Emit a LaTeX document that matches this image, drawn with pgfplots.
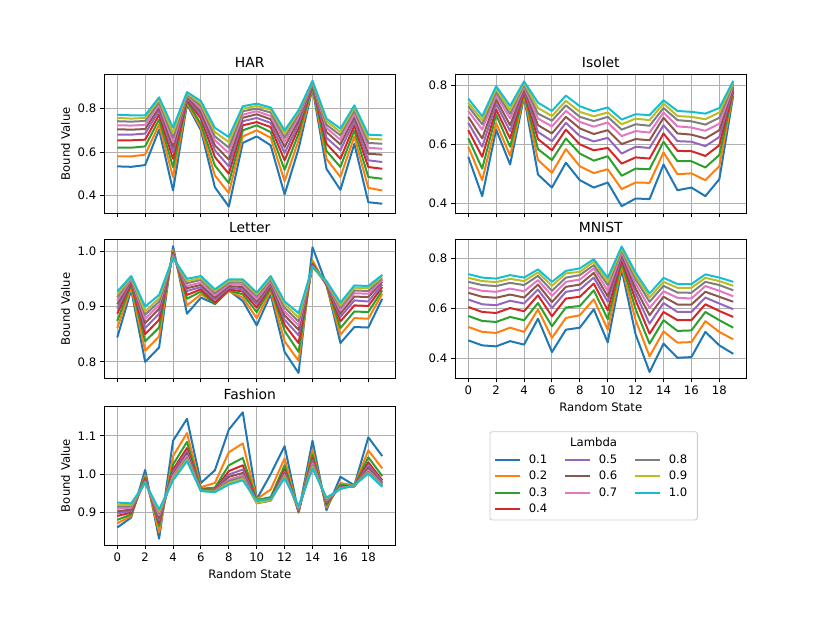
\documentclass[border=0pt]{standalone}
\usepackage{fontspec}
\setmainfont{DejaVu Sans}
\usepackage{pgfplots}
\usepackage{pgfplotstable}
\pgfplotsset{compat=1.18}
\newlength\pu
\setlength\pu{0.9pt}
\definecolor{c0}{HTML}{1F77B4}
\definecolor{c1}{HTML}{FF7F0E}
\definecolor{c2}{HTML}{2CA02C}
\definecolor{c3}{HTML}{D62728}
\definecolor{c4}{HTML}{9467BD}
\definecolor{c5}{HTML}{8C564B}
\definecolor{c6}{HTML}{E377C2}
\definecolor{c7}{HTML}{7F7F7F}
\definecolor{c8}{HTML}{BCBD22}
\definecolor{c9}{HTML}{17BECF}
\definecolor{gridc}{HTML}{B0B0B0}
\definecolor{legc}{HTML}{CCCCCC}

\pgfplotstableread{
x a b c d e f g h i j
0 0.534 0.580 0.620 0.654 0.680 0.705 0.723 0.742 0.757 0.772
1 0.532 0.580 0.620 0.654 0.680 0.703 0.722 0.740 0.754 0.769
2 0.540 0.588 0.626 0.657 0.685 0.706 0.725 0.743 0.757 0.769
3 0.703 0.727 0.750 0.772 0.790 0.805 0.818 0.830 0.842 0.852
4 0.423 0.485 0.531 0.569 0.600 0.623 0.646 0.666 0.688 0.712
5 0.820 0.828 0.835 0.842 0.849 0.855 0.861 0.866 0.871 0.876
6 0.700 0.712 0.728 0.754 0.770 0.785 0.800 0.812 0.823 0.835
7 0.438 0.492 0.538 0.577 0.608 0.631 0.654 0.672 0.692 0.712
8 0.349 0.411 0.457 0.500 0.534 0.565 0.595 0.620 0.646 0.669
9 0.642 0.672 0.700 0.723 0.742 0.758 0.772 0.788 0.800 0.811
10 0.672 0.700 0.723 0.738 0.757 0.774 0.788 0.800 0.812 0.823
11 0.631 0.666 0.692 0.715 0.734 0.751 0.766 0.782 0.795 0.805
12 0.405 0.466 0.518 0.562 0.595 0.623 0.646 0.666 0.685 0.700
13 0.615 0.654 0.685 0.711 0.728 0.746 0.762 0.774 0.785 0.792
14 0.893 0.898 0.903 0.908 0.912 0.916 0.919 0.922 0.925 0.928
15 0.523 0.569 0.605 0.638 0.666 0.692 0.711 0.726 0.742 0.754
16 0.426 0.485 0.531 0.569 0.608 0.635 0.657 0.677 0.692 0.708
17 0.638 0.672 0.700 0.723 0.743 0.762 0.777 0.792 0.805 0.815
18 0.369 0.435 0.485 0.531 0.562 0.592 0.620 0.642 0.662 0.680
19 0.362 0.423 0.477 0.523 0.554 0.588 0.615 0.638 0.658 0.677
}\har

\pgfplotstableread{
x a b c d e f g h i j
0 0.558 0.592 0.621 0.648 0.673 0.693 0.713 0.729 0.741 0.755
1 0.425 0.479 0.518 0.558 0.592 0.620 0.650 0.668 0.682 0.695
2 0.650 0.672 0.700 0.718 0.737 0.752 0.766 0.777 0.788 0.797
3 0.532 0.562 0.592 0.620 0.645 0.665 0.688 0.703 0.716 0.730
4 0.760 0.766 0.772 0.778 0.785 0.790 0.796 0.802 0.808 0.813
5 0.498 0.547 0.584 0.618 0.642 0.665 0.687 0.704 0.723 0.741
6 0.454 0.504 0.547 0.580 0.611 0.637 0.661 0.680 0.696 0.713
7 0.538 0.584 0.620 0.650 0.673 0.693 0.713 0.732 0.747 0.765
8 0.479 0.526 0.569 0.600 0.628 0.654 0.676 0.693 0.710 0.729
9 0.454 0.503 0.545 0.580 0.610 0.635 0.660 0.679 0.695 0.712
10 0.471 0.516 0.560 0.588 0.622 0.648 0.674 0.693 0.708 0.725
11 0.391 0.449 0.494 0.535 0.569 0.601 0.628 0.650 0.668 0.684
12 0.417 0.471 0.518 0.556 0.592 0.618 0.645 0.668 0.687 0.702
13 0.415 0.470 0.516 0.552 0.588 0.614 0.640 0.663 0.682 0.699
14 0.532 0.573 0.609 0.637 0.665 0.690 0.708 0.723 0.738 0.749
15 0.445 0.499 0.543 0.578 0.611 0.637 0.661 0.682 0.696 0.713
16 0.454 0.502 0.543 0.577 0.609 0.633 0.657 0.678 0.693 0.710
17 0.425 0.479 0.522 0.561 0.594 0.620 0.646 0.667 0.685 0.704
18 0.482 0.526 0.564 0.597 0.625 0.648 0.670 0.690 0.708 0.723
19 0.765 0.775 0.780 0.785 0.790 0.795 0.800 0.805 0.810 0.815
}\isolet

\pgfplotstableread{
x a b c d e f g h i j
0 0.844 0.861 0.874 0.887 0.896 0.904 0.911 0.917 0.922 0.927
1 0.930 0.935 0.940 0.943 0.946 0.948 0.950 0.952 0.953 0.955
2 0.800 0.820 0.837 0.850 0.861 0.870 0.878 0.885 0.891 0.900
3 0.826 0.846 0.862 0.876 0.887 0.896 0.903 0.909 0.915 0.921
4 1.009 1.002 0.998 0.996 0.994 0.992 0.991 0.990 0.989 0.988
5 0.887 0.902 0.914 0.921 0.928 0.933 0.937 0.942 0.946 0.950
6 0.916 0.922 0.927 0.931 0.935 0.939 0.943 0.948 0.951 0.955
7 0.905 0.907 0.904 0.907 0.912 0.916 0.920 0.924 0.928 0.931
8 0.929 0.928 0.929 0.931 0.934 0.937 0.940 0.943 0.946 0.949
9 0.910 0.916 0.922 0.927 0.931 0.935 0.939 0.943 0.946 0.949
10 0.866 0.879 0.890 0.898 0.904 0.909 0.913 0.918 0.922 0.925
11 0.922 0.928 0.933 0.937 0.940 0.943 0.946 0.949 0.952 0.955
12 0.818 0.837 0.856 0.867 0.876 0.884 0.891 0.898 0.904 0.909
13 0.780 0.802 0.818 0.834 0.848 0.858 0.866 0.873 0.880 0.888
14 1.007 0.983 0.978 0.976 0.974 0.973 0.972 0.971 0.971 0.972
15 0.940 0.938 0.939 0.940 0.941 0.942 0.943 0.944 0.945 0.946
16 0.834 0.849 0.861 0.873 0.881 0.887 0.893 0.898 0.902 0.907
17 0.863 0.879 0.891 0.902 0.911 0.918 0.924 0.929 0.934 0.938
18 0.862 0.878 0.890 0.901 0.909 0.917 0.923 0.928 0.933 0.937
19 0.914 0.923 0.929 0.935 0.940 0.945 0.948 0.951 0.954 0.957
}\letter

\pgfplotstableread{
x a b c d e f g h i j
0 0.471 0.525 0.569 0.605 0.635 0.662 0.683 0.706 0.722 0.737
1 0.451 0.505 0.549 0.585 0.616 0.646 0.670 0.693 0.709 0.723
2 0.447 0.501 0.545 0.581 0.612 0.642 0.666 0.689 0.705 0.719
3 0.468 0.522 0.565 0.601 0.630 0.655 0.679 0.702 0.718 0.733
4 0.454 0.505 0.552 0.588 0.619 0.643 0.668 0.693 0.709 0.723
5 0.558 0.595 0.621 0.652 0.675 0.695 0.713 0.730 0.744 0.756
6 0.424 0.481 0.528 0.568 0.601 0.625 0.650 0.670 0.690 0.706
7 0.514 0.561 0.603 0.639 0.666 0.686 0.706 0.723 0.740 0.750
8 0.522 0.572 0.609 0.646 0.675 0.695 0.715 0.733 0.746 0.760
9 0.596 0.636 0.672 0.699 0.723 0.742 0.760 0.773 0.787 0.797
10 0.463 0.514 0.556 0.592 0.626 0.648 0.670 0.693 0.706 0.722
11 0.755 0.770 0.783 0.795 0.806 0.816 0.825 0.833 0.840 0.848
12 0.495 0.552 0.596 0.632 0.659 0.679 0.699 0.717 0.730 0.743
13 0.344 0.407 0.458 0.498 0.538 0.572 0.601 0.626 0.643 0.659
14 0.458 0.507 0.552 0.585 0.621 0.646 0.668 0.690 0.706 0.722
15 0.401 0.462 0.509 0.552 0.585 0.615 0.642 0.663 0.682 0.697
16 0.404 0.464 0.511 0.552 0.585 0.615 0.639 0.662 0.682 0.697
17 0.505 0.548 0.585 0.616 0.643 0.666 0.689 0.706 0.722 0.736
18 0.451 0.505 0.552 0.589 0.619 0.646 0.670 0.693 0.709 0.723
19 0.417 0.475 0.522 0.565 0.596 0.626 0.648 0.672 0.690 0.706
}\mnist

\pgfplotstableread{
x a b c d e f g h i j
0 0.861 0.872 0.881 0.891 0.898 0.903 0.910 0.915 0.920 0.926
1 0.887 0.891 0.895 0.900 0.904 0.908 0.913 0.917 0.920 0.924
2 1.011 0.997 0.991 0.987 0.984 0.982 0.980 0.979 0.978 0.977
3 0.832 0.848 0.865 0.874 0.880 0.887 0.893 0.898 0.902 0.908
4 1.087 1.047 1.025 1.012 1.005 0.999 0.995 0.990 0.988 0.984
5 1.144 1.107 1.084 1.068 1.060 1.054 1.048 1.042 1.038 1.034
6 0.977 0.966 0.962 0.960 0.959 0.958 0.957 0.957 0.956 0.956
7 1.010 0.977 0.965 0.960 0.958 0.957 0.956 0.955 0.954 0.953
8 1.116 1.057 1.023 1.008 0.999 0.993 0.986 0.982 0.977 0.973
9 1.161 1.080 1.042 1.023 1.012 1.003 0.997 0.992 0.988 0.984
10 0.935 0.935 0.933 0.930 0.928 0.926 0.925 0.924 0.925 0.932
11 1.000 0.960 0.940 0.935 0.933 0.932 0.931 0.931 0.932 0.935
12 1.073 1.041 1.023 1.012 1.006 1.002 0.998 0.995 0.993 0.990
13 0.900 0.900 0.902 0.903 0.905 0.907 0.909 0.911 0.914 0.917
14 1.087 1.064 1.051 1.042 1.036 1.031 1.028 1.023 1.019 1.015
15 0.906 0.913 0.919 0.924 0.927 0.930 0.932 0.934 0.937 0.939
16 0.993 0.977 0.972 0.968 0.966 0.965 0.964 0.963 0.962 0.961
17 0.971 0.970 0.969 0.969 0.968 0.968 0.969 0.970 0.971 0.972
18 1.096 1.062 1.044 1.031 1.023 1.016 1.010 1.006 1.003 1.001
19 1.047 1.015 0.995 0.984 0.980 0.976 0.973 0.971 0.969 0.967
}\fashion

\newcommand\tenlines[1]{%
  \addplot[c0] table[x=x,y=a]{#1};
  \addplot[c1] table[x=x,y=b]{#1};
  \addplot[c2] table[x=x,y=c]{#1};
  \addplot[c3] table[x=x,y=d]{#1};
  \addplot[c4] table[x=x,y=e]{#1};
  \addplot[c5] table[x=x,y=f]{#1};
  \addplot[c6] table[x=x,y=g]{#1};
  \addplot[c7] table[x=x,y=h]{#1};
  \addplot[c8] table[x=x,y=i]{#1};
  \addplot[c9] table[x=x,y=j]{#1};
}

\pgfplotsset{
  panel/.style={
    scale only axis, width=291.5\pu, height=139\pu, anchor=south west,
    xmin=-0.95, xmax=19.95, xtick={0,2,...,18},
    grid=major, grid style={draw=gridc, line width=0.8pt},
    tick align=outside, tick pos=left, major tick length=3.5pt,
    every tick/.style={black, line width=0.8pt},
    axis line style={line width=0.8pt, black},
    tick label style={font=\fontsize{10.5}{12}\selectfont},
    label style={font=\fontsize{10.5}{12}\selectfont},
    title style={font=\fontsize{12.5}{14}\selectfont, at={(0.5,1)}, anchor=base, yshift=0pt},
    /pgf/number format/assume math mode=true,
    yticklabel style={/pgf/number format/.cd, fixed, fixed zerofill, precision=1},
    every axis plot/.append style={line width=1.8pt, mark=none, line join=round},
  }
}

\begin{document}
\begin{tikzpicture}
\path[use as bounding box] (0,0) rectangle (830\pu,623\pu);

\begin{axis}[panel, at={(104\pu,409.7\pu)}, title={HAR}, ylabel={Bound Value},
  ymin=0.318, ymax=0.958, ytick={0.4,0.6,0.8}, xticklabels={}]
\tenlines{\har}
\end{axis}

\begin{axis}[panel, at={(455\pu,409.7\pu)}, title={Isolet},
  ymin=0.367, ymax=0.837, ytick={0.4,0.6,0.8}, xticklabels={}]
\tenlines{\isolet}
\end{axis}

\begin{axis}[panel, at={(104\pu,244.5\pu)}, title={Letter}, ylabel={Bound Value},
  ymin=0.770, ymax=1.021, ytick={0.8,0.9,1.0}, xticklabels={}]
\tenlines{\letter}
\end{axis}

\begin{axis}[panel, at={(455\pu,244.5\pu)}, title={MNIST}, xlabel={Random State},
  ymin=0.318, ymax=0.876, ytick={0.4,0.6,0.8}]
\tenlines{\mnist}
\end{axis}

\begin{axis}[panel, at={(104\pu,78\pu)}, title={Fashion}, xlabel={Random State}, ylabel={Bound Value},
  ymin=0.8155, ymax=1.1775, ytick={0.9,1.0,1.1}]
\tenlines{\fashion}
\end{axis}

\draw[draw=legc, line width=0.8pt, rounded corners=2pt] (490\pu,103\pu) rectangle (697.3\pu,191.3\pu);
\node[font=\fontsize{10.5}{12}\selectfont] at (593.6\pu,181.3\pu) {Lambda};

\begin{axis}[at={(494\pu,101.5\pu)}, anchor=south west, scale only axis, width=200\pu, height=68.9\pu,
  hide axis, xmin=0, xmax=1, ymin=0, ymax=1,
  legend columns=3, legend cell align=left,
  legend image code/.code={\draw[#1, line width=1.8pt] (0pt,0pt) -- (22.5pt,0pt);},
  legend style={at={(0,1)}, anchor=north west, draw=none, fill=none, inner sep=0pt, outer sep=0pt,
    font=\fontsize{10.5}{12}\selectfont, row sep=1.5pt,
    /tikz/every odd column/.append style={column sep=5pt},
    /tikz/every even column/.append style={column sep=13pt}}]
\addlegendimage{c0} \addlegendentry{0.1}
\addlegendimage{c4} \addlegendentry{0.5}
\addlegendimage{c7} \addlegendentry{0.8}
\addlegendimage{c1} \addlegendentry{0.2}
\addlegendimage{c5} \addlegendentry{0.6}
\addlegendimage{c8} \addlegendentry{0.9}
\addlegendimage{c2} \addlegendentry{0.3}
\addlegendimage{c6} \addlegendentry{0.7}
\addlegendimage{c9} \addlegendentry{1.0}
\addlegendimage{c3} \addlegendentry{0.4}
\end{axis}
\end{tikzpicture}
\end{document}
